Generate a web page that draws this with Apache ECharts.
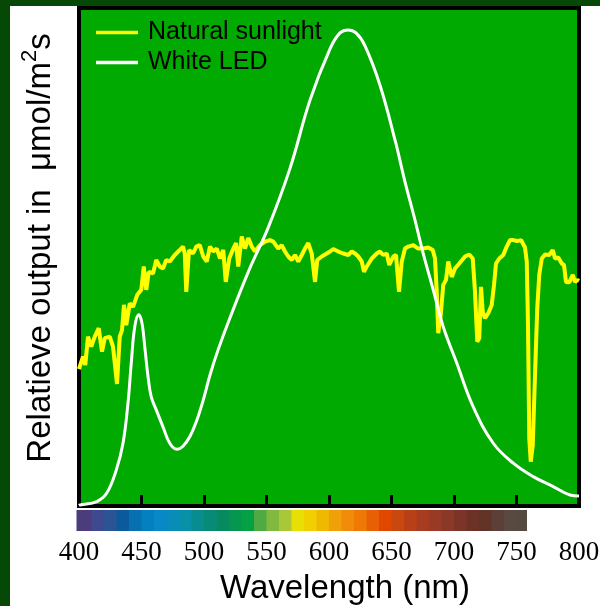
<!DOCTYPE html>
<html>
<head>
<meta charset="utf-8">
<script src="https://cdn.jsdelivr.net/npm/echarts@6/dist/echarts.min.js"></script>
<style>
  html, body { margin: 0; padding: 0; background: #fff; }
  #chart { width: 600px; height: 606px; }
</style>
</head>
<body>
<div id="chart"></div>
<script>
// natural sunlight (nm / relative output, 0..100 of the plot height)
const sunNm = [400, 400.6, 403.2, 405, 407.2, 409.8, 412.6, 415.8, 418.4, 420.6, 424.6, 427.2, 430.4, 432.6, 434.4, 436, 437.8, 440.6, 443.2, 446.6, 449.8,
  451.8, 453.8, 455.8, 459.2, 461.8, 464.6, 467.2, 469.8, 472.6, 476.6, 480.6, 483.2, 484.6, 485.8, 488, 491.2, 493.8, 496.6, 499.4,
  502.2, 504.8, 507.4, 510.2, 512.8, 515.4, 517.4, 520.2, 523.4, 525.6, 527.4, 530.2, 532.8, 535.4, 538.2, 540.8, 544.8, 548.8,
  552.8, 555.4, 559.4, 562.2, 564.8, 567.4, 570.2, 572.8, 575.4, 578.2, 580.8, 583.4, 586.2, 588.8, 590.6, 594.2, 598.2, 600.8,
  603.4, 607.4, 611.4, 615.4, 618.2, 620.8, 623.4, 626.2, 628, 630.2, 634.2, 638.2, 640.8, 643.4, 646.2, 648.2, 651.4, 653.6,
  656, 658.2, 660.8, 663.4, 667.4, 671.4, 675.4, 679.4, 683, 684.8, 686.2, 687.4, 689.4, 691.4, 693.6, 695.4, 698.2, 700.8,
  704.2, 708.8, 712.2, 715, 716.8, 718.6, 720.2, 721.6, 723, 724.8, 727.4, 730.2, 732, 733.6, 736.2, 739.4, 742.2, 744.8,
  747.4, 750.6, 753.6, 756.8, 758.2, 759.2, 760.2, 761.4, 763, 764.8, 766.6, 768.2, 770.2, 772.8, 776.2, 779, 780.8, 783.4,
  786.2, 788, 789.6, 792.2, 795, 796.8, 798.6, 800];
const sunOutput = [27.5, 28.0, 30.0, 28.3, 34.0, 32.0, 34.0, 35.7, 31.0, 33.7, 34.0, 32.0, 24.5, 34.0, 35.3, 40.4, 36.3, 40.7, 40.0, 42.4, 43.4,
  48.1, 43.4, 47.0, 46.7, 49.4, 48.1, 47.7, 49.4, 49.1, 50.4, 51.4, 52.1, 50.7, 43.0, 51.4, 50.7, 52.1, 52.4, 50.1,
  49.1, 52.1, 51.1, 51.7, 49.7, 51.4, 45.0, 49.7, 51.7, 52.8, 48.1, 54.1, 51.7, 53.8, 52.1, 51.1, 52.4, 53.1,
  53.4, 53.1, 51.7, 52.4, 51.1, 50.1, 49.4, 50.4, 49.1, 50.4, 51.7, 52.8, 50.7, 45.0, 49.4, 50.1, 50.7, 51.1,
  51.6, 51.1, 50.7, 50.4, 51.1, 50.7, 50.1, 49.1, 47.0, 48.1, 49.7, 50.7, 51.1, 50.4, 50.7, 48.4, 50.1, 50.4,
  43.0, 49.1, 51.7, 52.1, 52.4, 51.7, 51.7, 51.9, 51.4, 49.7, 43.0, 34.7, 38.4, 44.4, 45.4, 49.1, 46.0, 47.7,
  48.7, 50.1, 50.5, 49.7, 43.0, 33.0, 33.7, 44.0, 39.0, 37.7, 38.7, 40.4, 44.4, 48.7, 49.7, 50.4, 52.1, 53.4,
  53.4, 53.2, 53.4, 51.9, 49.1, 36.3, 13.6, 8.9, 12.2, 26.3, 39.7, 46.4, 49.7, 50.5, 50.4, 51.4, 49.7, 49.9,
  48.7, 48.4, 45.0, 44.9, 46.4, 45.0, 45.4, 45.2];

// white LED
const ledNm = [400, 400.8, 414.2, 422.2, 429.8, 435.2, 439.2, 441.8, 444.6, 447.8, 450.4, 452.6, 455.2, 457.8, 461.8, 467.2, 472.6,
  478.4, 483.2, 488.6, 493.8, 499.2, 504.8, 511.2, 520.8, 536.8, 551.2, 568.8, 584.8, 600.8, 608.8, 615.2, 621.6, 628.8, 640.8,
  652.8, 660.8, 668.8, 675.4, 683.4, 691.4, 702.2, 715.4, 731.4, 747.4, 763.4, 779.4, 792.8, 800];
const ledOutput = [0.1, 0.2, 0.9, 2.6, 7.2, 12.6, 20.7, 28.7, 36.0, 38.4, 36.7, 32.0, 26.0, 21.9, 19.3, 15.9, 12.6,
  11.4, 12.0, 13.9, 16.9, 21.1, 26.3, 31.3, 37.8, 47.8, 55.8, 67.8, 81.5, 91.8, 95.0, 95.6, 95.0, 92.4, 84.5,
  73.5, 65.1, 57.4, 50.7, 43.4, 36.0, 28.7, 19.9, 12.6, 8.6, 5.9, 3.9, 2.2, 2.0];

// colour strip under the axis: band start (nm) and colour
const bandStart = [398, 410, 420, 430, 440, 450, 460, 470, 480, 490, 500, 510, 520, 530, 540, 550, 560, 570, 580,
  590, 600, 610, 620, 630, 640, 650, 660, 670, 680, 690, 700, 710, 720, 730, 740, 750];
const bandColor = ['#4b3c7c', '#3f4a8e', '#2c5494', '#0a5a9c', '#0670b0', '#0480c0', '#0888c4', '#0a8cb8', '#0890a8',
  '#088c90', '#088a78', '#088a60', '#069650', '#04a044', '#50aa44', '#80b840', '#a8c838', '#e8e004', '#f0d000',
  '#f0b800', '#f0a008', '#f08c08', '#f07804', '#e86004', '#e04800', '#c84810', '#b84018', '#a83c20', '#983a26',
  '#8a3828', '#7c3428', '#6c3228', '#623428', '#5c4038', '#584a42', '#544a40'];
const bandEnd = 758;

const seriesNames = ['Natural sunlight', 'White LED'];

const zip = (xs, ys) => xs.map((x, i) => [x, ys[i]]);
const bands = bandStart.map((s, i) => [s, i + 1 < bandStart.length ? bandStart[i + 1] : bandEnd, i]);

const chart = echarts.init(document.getElementById('chart'));

const option = {
    animation: false,
    backgroundColor: '#fff',
    graphic: [
        { type: 'rect', shape: { x: 0, y: 0, width: 10, height: 606 }, style: { fill: '#064806' }, z: 100 },
        { type: 'rect', shape: { x: 0, y: 0, width: 600, height: 6 }, style: { fill: '#064806' }, z: 100 }
    ],
    legend: {
        orient: 'vertical',
        left: 96,
        top: 20,
        padding: 0,
        icon: 'rect',
        itemWidth: 42,
        itemHeight: 3.5,
        itemGap: 5,
        textStyle: { color: '#000', fontSize: 25, fontFamily: 'Liberation Sans', lineHeight: 25, padding: [0, 0, 0, 5] },
        data: seriesNames
    },
    grid: [
        { left: 79, right: 21, top: 8, bottom: 100, outerBoundsMode: 'none', show: true, backgroundColor: '#00aa00', borderColor: '#000', borderWidth: 4 },
        { left: 79, right: 21, top: 510, height: 21, outerBoundsMode: 'none' }
    ],
    xAxis: [
        {
            type: 'value',
            gridIndex: 0,
            min: 400,
            max: 800,
            interval: 50,
            name: 'Wavelength (nm)',
            nameLocation: 'middle',
            nameGap: 66,
            nameTextStyle: { color: '#000', fontSize: 33, fontFamily: 'Liberation Sans', padding: [0, 0, 0, 32] },
            axisLine: { show: true, lineStyle: { color: '#000', width: 4 } },
            axisTick: { show: true, inside: true, length: 11, lineStyle: { color: '#000', width: 3 } },
            axisLabel: {
                margin: 33,
                color: '#000',
                fontSize: 27,
                fontFamily: 'Liberation Serif',
                showMinLabel: true,
                showMaxLabel: true
            },
            splitLine: { show: false }
        },
        { type: 'value', gridIndex: 1, min: 400, max: 800, show: false }
    ],
    yAxis: [
        {
            type: 'value',
            gridIndex: 0,
            min: 0,
            max: 100,
            name: '{a|Relatieve output in  μmol/m}{sup|2}{a|s}',
            nameLocation: 'middle',
            nameGap: 22,
            nameRotate: 90,
            nameTextStyle: {
                color: '#000',
                padding: [0, 0, 0, 18],
                rich: {
                    a: { fontSize: 33, fontFamily: 'Liberation Sans', color: '#000', verticalAlign: 'bottom' },
                    sup: { fontSize: 22, fontFamily: 'Liberation Sans', color: '#000', verticalAlign: 'bottom', padding: [0, 0, 16, 0] }
                }
            },
            axisLine: { show: false },
            axisTick: { show: false },
            axisLabel: { show: false },
            splitLine: { show: false }
        },
        { type: 'value', gridIndex: 1, min: 0, max: 1, show: false }
    ],
    series: [
        {
            name: seriesNames[0],
            type: 'line',
            xAxisIndex: 0,
            yAxisIndex: 0,
            data: zip(sunNm, sunOutput),
            showSymbol: false,
            symbol: 'none',
            color: '#ffff00',
            lineStyle: { color: '#ffff00', width: 4 },
            z: 3
        },
        {
            name: seriesNames[1],
            type: 'line',
            xAxisIndex: 0,
            yAxisIndex: 0,
            data: zip(ledNm, ledOutput),
            smooth: 0.4,
            showSymbol: false,
            symbol: 'none',
            color: '#ffffff',
            lineStyle: { color: '#ffffff', width: 3 },
            z: 4
        },
        {
            type: 'custom',
            xAxisIndex: 1,
            yAxisIndex: 1,
            silent: true,
            data: bands,
            renderItem: (params, api) => {
                const p0 = api.coord([api.value(0), 1]);
                const p1 = api.coord([api.value(1), 0]);
                return {
                    type: 'rect',
                    shape: { x: p0[0], y: p0[1], width: p1[0] - p0[0] + 0.5, height: p1[1] - p0[1] },
                    style: { fill: bandColor[api.value(2)] }
                };
            }
        }
    ]
};

chart.setOption(option);
</script>
</body>
</html>
